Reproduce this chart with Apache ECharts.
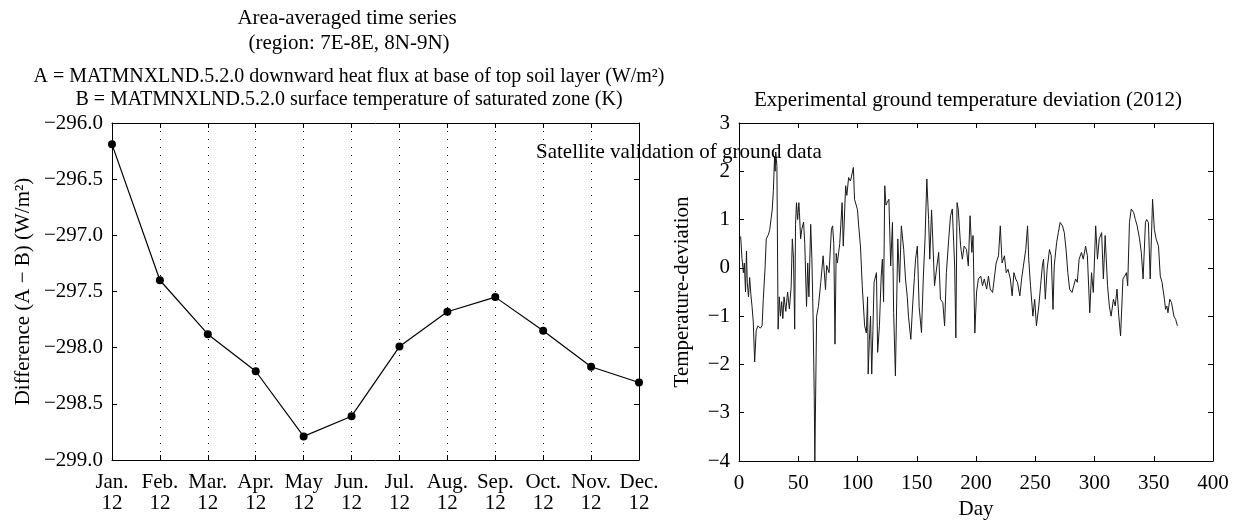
<!DOCTYPE html>
<html>
<head>
<meta charset="utf-8">
<script src="https://cdn.jsdelivr.net/npm/echarts@6/dist/echarts.min.js"></script>
<style>
html,body{margin:0;padding:0;background:#fff;}
#chart{width:1233px;height:523px;}
</style>
</head>
<body>
<div id="chart"></div>
<script>
// ---- Left chart data ----
const months = ['Jan.','Feb.','Mar.','Apr.','May','Jun.','Jul.','Aug.','Sep.','Oct.','Nov.','Dec.'];
const yearLabel = '12';
const diffValues = [-296.19, -297.40, -297.88, -298.21, -298.79, -298.61, -297.99, -297.68, -297.55, -297.85, -298.17, -298.31];

// ---- Right chart data (day, deviation readings) ----
const days = [1.4,2.5,3.7,4.5,5.5,6.3,7,8,9,10,11,12,13.2,14.5,16,18,19.5,20.5,22,23,25,26,28,29,30,30.5,31,32,33,34,35,36,37,38,39.5,41,42.5,44,45,46,47,47.7,48.5,49.5,50.5,51,52,53,54.5,55.5,57,58,59,60.5,61.5,62.5,63.5,64,65.5,67,69,71,73,74,76,78,79,80,81,82,83,84,85,87,88,90,91,92.5,94,95,96.5,97.5,99,100,101,102.5,104,106,107.5,108.5,109,110,111,112,113,114,116,117,118.5,120,121,122,123,124,125,126.5,128,129.5,130.5,132,134,135.5,137,139,140.5,142,143,145,146.5,148,149,150.5,152,154,155.5,157,158.5,160,161,162.5,163.5,165,167,168.5,170,172,173.5,175,177,178.5,180,182,183,184,185,187,188.5,190,192,193.5,195,196.5,197.5,199,200.5,202,204,205.5,207,209,210.5,212,214,215.5,217,219,220.5,222,224,225.5,227,229,230.5,232,233.5,235,237,238.5,240,242,243.5,244.5,246,248,249.5,251,253,254.5,256,257,258.5,260,262,263.5,265,266,268,269.5,271,273,274.5,276,277.5,279,281,282.5,284,285.5,287,289,290.5,292.5,294,296,297.5,299,301,302.5,304,306,307.5,309,311,312.5,314,316,317.5,319,320.5,322,324,325.5,327,328,329.5,331,333,334.5,336,338,339.5,341,343,344,345.5,347,349,350.5,352,354,355.5,357,359,360,361,362,363.5,365,367,368.5,370];
const deviation = [0.65,0.2,-0.1,0.1,-0.5,0.35,-0.3,-0.6,-0.2,-0.55,-0.8,-1.1,-1.95,-1.3,-1.2,-1.25,-1.2,-0.65,0.0,0.6,0.7,0.8,1.2,1.6,2.3,2.0,2.4,2.1,-1.27,-0.6,-1.0,-0.7,-1.05,-0.6,-0.9,-0.5,-0.85,-0.4,0.6,0.2,-1.27,0.9,1.35,1.0,1.35,1.15,0.6,0.8,0.95,0.5,-0.8,0.1,-0.6,0.9,0.2,-1.0,-2.65,-4.0,-1.0,-0.8,-0.3,0.25,-0.45,0.05,-0.1,0.8,0.87,0.5,-1.58,0.3,0.1,0.1,0.5,1.35,0.45,1.7,1.5,1.87,1.8,1.9,2.08,1.42,1.45,1.2,0.87,0.45,-0.37,-1.2,-1.35,-0.6,-2.2,-1.5,-1.0,-2.2,-1.3,-0.3,-0.1,-1.75,-1.2,-0.17,0.18,-0.7,1.7,1.3,1.35,1.42,0.04,0.94,-0.93,-2.24,0.6,-0.3,0.87,0.38,-0.23,-0.6,-1.0,-1.48,-0.79,-0.2,0.18,0.45,-0.8,-1.34,-0.23,0.6,1.84,1.0,0.18,1.2,0.6,-0.37,0.04,0.32,-0.65,-0.72,-1.2,-0.1,0.6,1.08,1.22,0.04,-1.45,1.35,1.22,0.45,0.18,0.45,0.38,0.04,1.08,0.32,0.67,-1.35,-0.5,-0.23,-0.17,-0.37,-0.23,-0.44,-0.17,-0.44,-0.51,-0.51,0.1,0.25,0.87,0.1,0.25,-0.1,-0.03,-0.23,-0.58,-0.1,-0.23,-0.3,-0.58,-0.23,0.04,0.38,0.87,0.18,-0.37,-1.0,-0.65,-1.2,-0.79,-0.37,0.04,0.18,-0.65,-0.03,0.38,0.25,-0.86,0.04,0.52,0.73,0.94,0.87,0.73,0.38,-0.1,-0.44,-0.51,-0.37,-0.23,-0.3,0.18,0.32,0.18,0.45,0.25,-0.93,-0.1,-0.51,0.87,0.18,0.6,0.73,-0.23,0.67,-0.37,-0.79,-1.0,-0.65,-0.79,-0.44,-1.0,-1.41,-0.23,-0.17,-0.1,-0.37,0.94,1.22,1.15,1.0,0.87,0.6,0.32,-0.23,0.94,1.0,0.94,-0.23,1.42,0.8,0.6,0.45,-0.17,-0.3,-0.65,-0.86,-0.79,-0.93,-0.65,-0.72,-1.0,-1.07,-1.2];

const FONT = '"Liberation Serif", "Times New Roman", serif';
const minus = v => String(v).replace('-', '\u2212');

const chart = echarts.init(document.getElementById('chart'), null, {renderer: 'canvas'});

const axisLineStyle = {show: true, onZero: false, lineStyle: {color: '#000', width: 1}};
const tickIn = {show: true, inside: true, length: 5, lineStyle: {color: '#000', width: 1}};
const labelStyle = {color: '#000', fontFamily: FONT, fontSize: 21};
const nameStyle = {color: '#000', fontFamily: FONT, fontSize: 21};

const option = {
  animation: false,
  backgroundColor: '#fff',
  textStyle: {fontFamily: FONT, color: '#000'},
  grid: [
    {left: 112, right: 594, top: 123, bottom: 63, containLabel: false, outerBoundsMode: 'none'},
    {left: 739, right: 20, top: 123, bottom: 62, containLabel: false, outerBoundsMode: 'none'}
  ],
  xAxis: [
    {
      gridIndex: 0, type: 'category', data: months, boundaryGap: false, position: 'bottom',
      axisLine: axisLineStyle, axisTick: tickIn,
      axisLabel: Object.assign({}, labelStyle, {margin: 12, lineHeight: 21, interval: 0, formatter: v => v + '\n' + yearLabel}),
      splitLine: {show: true, lineStyle: {color: '#000', width: 1, type: [1, 7]}}
    },
    {
      gridIndex: 0, type: 'category', data: months, boundaryGap: false, position: 'top',
      axisLine: axisLineStyle, axisTick: tickIn, axisLabel: {show: false}, splitLine: {show: false}
    },
    {
      gridIndex: 1, type: 'value', min: 0, max: 400, interval: 50, position: 'bottom',
      name: 'Day', nameLocation: 'middle', nameGap: 38, nameTextStyle: nameStyle,
      axisLine: axisLineStyle, axisTick: tickIn,
      axisLabel: Object.assign({}, labelStyle, {margin: 12}),
      splitLine: {show: false}
    },
    {
      gridIndex: 1, type: 'value', min: 0, max: 400, interval: 50, position: 'top',
      axisLine: axisLineStyle, axisTick: tickIn, axisLabel: {show: false}, splitLine: {show: false}
    }
  ],
  yAxis: [
    {
      gridIndex: 0, type: 'value', min: -299, max: -296, interval: 0.5, position: 'left',
      name: 'Difference (A \u2212 B) (W/m\u00B2)', nameLocation: 'middle', nameGap: 78, nameRotate: 90,
      nameTextStyle: nameStyle,
      axisLine: axisLineStyle, axisTick: tickIn,
      axisLabel: Object.assign({}, labelStyle, {margin: 9, formatter: v => minus(v.toFixed(1))}),
      splitLine: {show: false}
    },
    {
      gridIndex: 0, type: 'value', min: -299, max: -296, interval: 0.5, position: 'right',
      axisLine: axisLineStyle, axisTick: tickIn, axisLabel: {show: false}, splitLine: {show: false}
    },
    {
      gridIndex: 1, type: 'value', min: -4, max: 3, interval: 1, position: 'left',
      name: 'Temperature-deviation', nameLocation: 'middle', nameGap: 46, nameRotate: 90,
      nameTextStyle: nameStyle,
      axisLine: axisLineStyle, axisTick: tickIn,
      axisLabel: Object.assign({}, labelStyle, {margin: 9, formatter: v => minus(v)}),
      splitLine: {show: false}
    },
    {
      gridIndex: 1, type: 'value', min: -4, max: 3, interval: 1, position: 'right',
      axisLine: axisLineStyle, axisTick: tickIn, axisLabel: {show: false}, splitLine: {show: false}
    }
  ],
  series: [
    {
      type: 'line', xAxisIndex: 0, yAxisIndex: 0, data: diffValues,
      symbol: 'circle', symbolSize: 8, showSymbol: true, clip: false,
      lineStyle: {color: '#000', width: 1.2}, itemStyle: {color: '#000'}
    },
    {
      type: 'line', xAxisIndex: 2, yAxisIndex: 2,
      data: days.map((d, i) => [d, deviation[i]]),
      showSymbol: false, symbol: 'none',
      lineStyle: {color: '#1a1a1a', width: 1}
    }
  ],
  graphic: [
    {type: 'text', x: 347, y: 18, style: {text: 'Area-averaged time series', font: '21px ' + FONT, fill: '#000', textAlign: 'center', textVerticalAlign: 'middle'}},
    {type: 'text', x: 349, y: 43, style: {text: '(region: 7E-8E, 8N-9N)', font: '21px ' + FONT, fill: '#000', textAlign: 'center', textVerticalAlign: 'middle'}},
    {type: 'text', x: 349, y: 77, style: {text: 'A = MATMNXLND.5.2.0 downward heat flux at base of top soil layer (W/m\u00B2)', font: '20px ' + FONT, fill: '#000', textAlign: 'center', textVerticalAlign: 'middle'}},
    {type: 'text', x: 349, y: 100, style: {text: 'B = MATMNXLND.5.2.0 surface temperature of saturated zone (K)', font: '20px ' + FONT, fill: '#000', textAlign: 'center', textVerticalAlign: 'middle'}},
    {type: 'text', x: 968, y: 100, style: {text: 'Experimental ground temperature deviation (2012)', font: '21px ' + FONT, fill: '#000', textAlign: 'center', textVerticalAlign: 'middle'}},
    {type: 'text', x: 536, y: 152, z: 100, style: {text: 'Satellite validation of ground data', font: '21px ' + FONT, fill: '#000', textAlign: 'left', textVerticalAlign: 'middle'}}
  ]
};
chart.setOption(option);
</script>
</body>
</html>
